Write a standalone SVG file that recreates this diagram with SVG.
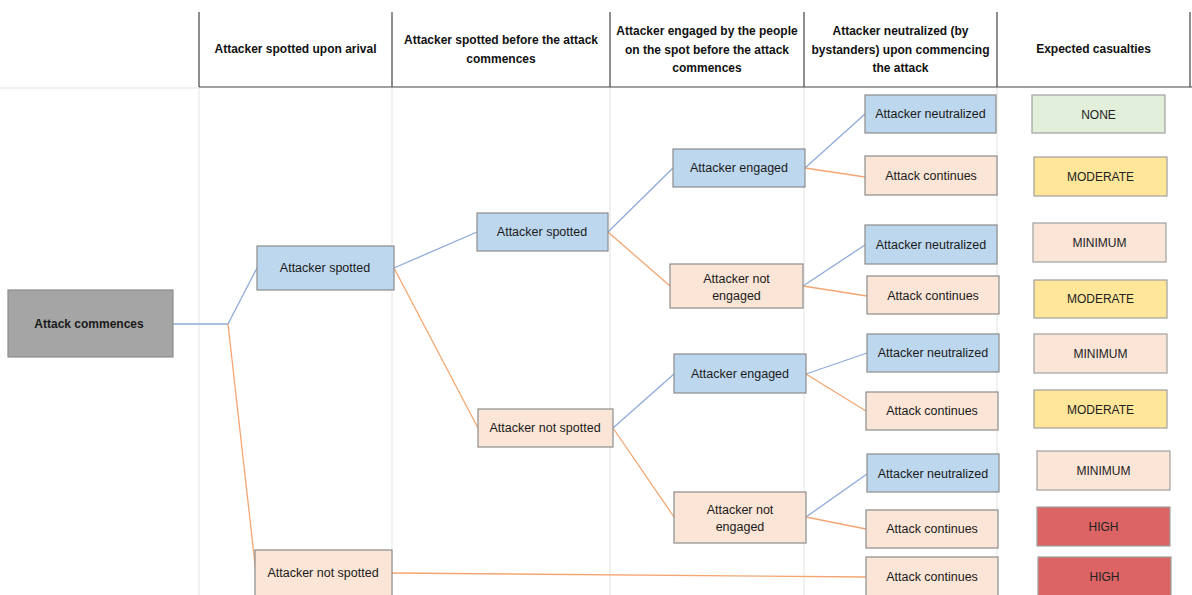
<svg xmlns="http://www.w3.org/2000/svg" width="1192" height="595" viewBox="0 0 1192 595">
<style>
.hdr{font-family:"Liberation Sans",Arial,sans-serif;font-size:12px;font-weight:bold;fill:#111;text-anchor:middle}
.t{font-family:"Liberation Sans",Arial,sans-serif;font-size:12.5px;fill:#1a1a1a;text-anchor:middle;dominant-baseline:central}
.c{font-family:"Liberation Sans",Arial,sans-serif;font-size:12px;fill:#222;text-anchor:middle;dominant-baseline:central}
.b{fill:#bdd7ee;stroke:#8c8c8c;stroke-width:1.2}
.o{fill:#fbe5d6;stroke:#8c8c8c;stroke-width:1.2}
.g{fill:#a5a5a5;stroke:#8c8c8c;stroke-width:1.2}
.none{fill:#e2efda;stroke:#a0a0a0;stroke-width:1.2}
.mod{fill:#ffe699;stroke:#a0a0a0;stroke-width:1.2}
.min{fill:#fbe5d6;stroke:#a0a0a0;stroke-width:1.2}
.high{fill:#dc6464;stroke:#a0a0a0;stroke-width:1.2}
.lb{stroke:#8eaadb;stroke-width:1.3;fill:none}
.lo{stroke:#f4a672;stroke-width:1.3;fill:none}
.grid{stroke:#e3e3e3;stroke-width:1}
.hl{stroke:#444;stroke-width:1.2}
</style>
<rect width="1192" height="595" fill="#fff"/>
<g id="grid">
<line class="grid" x1="0" y1="88" x2="199" y2="88"/>
<line class="grid" x1="199" y1="88" x2="199" y2="595"/>
<line class="grid" x1="392" y1="88" x2="392" y2="595"/>
<line class="grid" x1="610" y1="88" x2="610" y2="595"/>
<line class="grid" x1="804" y1="88" x2="804" y2="595"/>
<line class="grid" x1="997" y1="88" x2="997" y2="595"/>
<line class="hl" x1="199" y1="87" x2="1192" y2="87"/>
<line class="hl" x1="199" y1="12" x2="199" y2="87"/>
<line class="hl" x1="392" y1="12" x2="392" y2="87"/>
<line class="hl" x1="610" y1="12" x2="610" y2="87"/>
<line class="hl" x1="804" y1="12" x2="804" y2="87"/>
<line class="hl" x1="997" y1="12" x2="997" y2="87"/>
<line class="hl" x1="1190" y1="12" x2="1190" y2="87"/>
</g>
<g id="header">
<text class="hdr" x="295.5" y="53">Attacker spotted upon arival</text>
<text class="hdr" x="501" y="44">Attacker spotted before the attack</text>
<text class="hdr" x="501" y="63">commences</text>
<text class="hdr" x="707" y="35">Attacker engaged by the people</text>
<text class="hdr" x="707" y="54">on the spot before the attack</text>
<text class="hdr" x="707" y="72">commences</text>
<text class="hdr" x="900.5" y="35">Attacker neutralized (by</text>
<text class="hdr" x="900.5" y="54">bystanders) upon commencing</text>
<text class="hdr" x="900.5" y="72">the attack</text>
<text class="hdr" x="1093.5" y="53">Expected casualties</text>
</g>
<g id="connectors">
<line class="lb" x1="173" y1="324" x2="228" y2="324"/>
<line class="lb" x1="228" y1="324" x2="257" y2="268"/>
<line class="lo" x1="228" y1="324" x2="256" y2="573"/>
<line class="lb" x1="394" y1="268" x2="477" y2="232"/>
<line class="lo" x1="394" y1="268" x2="478" y2="428"/>
<line class="lb" x1="608" y1="232" x2="673" y2="168"/>
<line class="lo" x1="608" y1="232" x2="670" y2="286"/>
<line class="lb" x1="613" y1="428" x2="674" y2="374"/>
<line class="lo" x1="613" y1="428" x2="674" y2="517"/>
<line class="lb" x1="805" y1="168" x2="865" y2="114"/>
<line class="lo" x1="805" y1="168" x2="865" y2="177"/>
<line class="lb" x1="803" y1="286" x2="865" y2="245"/>
<line class="lo" x1="803" y1="286" x2="867" y2="296"/>
<line class="lb" x1="806" y1="374" x2="867" y2="353"/>
<line class="lo" x1="806" y1="374" x2="866" y2="411"/>
<line class="lb" x1="806" y1="517" x2="867" y2="474"/>
<line class="lo" x1="806" y1="517" x2="866" y2="529"/>
<line class="lo" x1="392" y1="573" x2="866" y2="577"/>
</g>
<g id="n-start"><rect class="g" x="8" y="290" width="165" height="67"/><text class="t" x="89" y="324" style="font-weight:bold;font-size:12px">Attack commences</text></g>
<g id="n-l1-spotted"><rect class="b" x="257" y="246" width="137" height="44"/><text class="t" x="325" y="268">Attacker spotted</text></g>
<g id="n-l1-notspotted"><rect class="o" x="255" y="550" width="137" height="46"/><text class="t" x="323" y="573">Attacker not spotted</text></g>
<g id="n-l2-spotted"><rect class="b" x="477" y="213" width="131" height="38"/><text class="t" x="542" y="232">Attacker spotted</text></g>
<g id="n-l2-notspotted"><rect class="o" x="478" y="409" width="135" height="38"/><text class="t" x="545" y="428">Attacker not spotted</text></g>
<g id="n-l3-engaged-a"><rect class="b" x="673" y="149" width="132" height="38"/><text class="t" x="739" y="168">Attacker engaged</text></g>
<g id="n-l3-notengaged-b"><rect class="o" x="670" y="264" width="133" height="44"/><text class="t" x="736.5" y="279">Attacker not</text><text class="t" x="736.5" y="296">engaged</text></g>
<g id="n-l3-engaged-c"><rect class="b" x="674" y="354" width="132" height="39"/><text class="t" x="740" y="374">Attacker engaged</text></g>
<g id="n-l3-notengaged-d"><rect class="o" x="674" y="492" width="132" height="51"/><text class="t" x="740" y="510">Attacker not</text><text class="t" x="740" y="527">engaged</text></g>
<g id="n-l4-neut-1"><rect class="b" x="865" y="95" width="131" height="38"/><text class="t" x="930.5" y="114">Attacker neutralized</text></g>
<g id="n-l4-cont-1"><rect class="o" x="865" y="156" width="132" height="39"/><text class="t" x="931" y="176">Attack continues</text></g>
<g id="n-l4-neut-2"><rect class="b" x="865" y="225" width="132" height="39"/><text class="t" x="931" y="245">Attacker neutralized</text></g>
<g id="n-l4-cont-2"><rect class="o" x="867" y="276" width="132" height="38"/><text class="t" x="933" y="296">Attack continues</text></g>
<g id="n-l4-neut-3"><rect class="b" x="867" y="334" width="132" height="38"/><text class="t" x="933" y="353">Attacker neutralized</text></g>
<g id="n-l4-cont-3"><rect class="o" x="866" y="392" width="132" height="38"/><text class="t" x="932" y="411">Attack continues</text></g>
<g id="n-l4-neut-4"><rect class="b" x="867" y="454" width="132" height="38"/><text class="t" x="933" y="474">Attacker neutralized</text></g>
<g id="n-l4-cont-4"><rect class="o" x="866" y="510" width="132" height="38"/><text class="t" x="932" y="529">Attack continues</text></g>
<g id="n-l4-cont-5"><rect class="o" x="866" y="557" width="132" height="39"/><text class="t" x="932" y="577">Attack continues</text></g>
<g id="c-1"><rect class="none" x="1032" y="95" width="133" height="38"/><text class="c" x="1098.5" y="115">NONE</text></g>
<g id="c-2"><rect class="mod" x="1034" y="157" width="133" height="39"/><text class="c" x="1100.5" y="177">MODERATE</text></g>
<g id="c-3"><rect class="min" x="1033" y="223" width="133" height="39"/><text class="c" x="1099.5" y="243">MINIMUM</text></g>
<g id="c-4"><rect class="mod" x="1034" y="280" width="133" height="38"/><text class="c" x="1100.5" y="299">MODERATE</text></g>
<g id="c-5"><rect class="min" x="1034" y="334" width="133" height="39"/><text class="c" x="1100.5" y="354">MINIMUM</text></g>
<g id="c-6"><rect class="mod" x="1034" y="390" width="133" height="38"/><text class="c" x="1100.5" y="410">MODERATE</text></g>
<g id="c-7"><rect class="min" x="1037" y="451" width="133" height="39"/><text class="c" x="1103.5" y="471">MINIMUM</text></g>
<g id="c-8"><rect class="high" x="1037" y="507" width="133" height="39"/><text class="c" x="1103.5" y="527">HIGH</text></g>
<g id="c-9"><rect class="high" x="1038" y="557" width="133" height="39"/><text class="c" x="1104.5" y="577">HIGH</text></g>
</svg>
